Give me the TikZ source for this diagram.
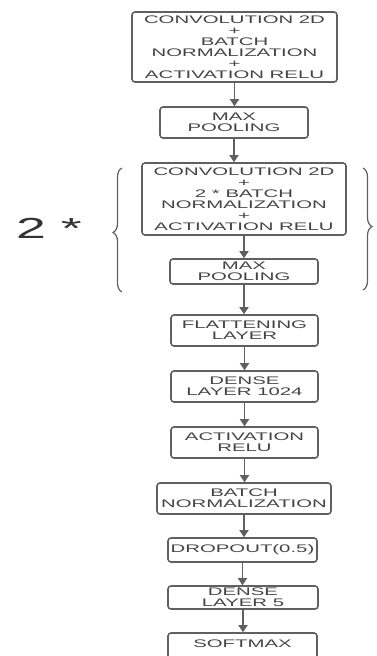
\documentclass[tikz,border=0pt]{standalone}
\usepackage{fontspec}
\usepackage{tikz}
\usetikzlibrary{arrows.meta,decorations.pathreplacing}
\newfontfamily\boxfont[FakeStretch=1.85]{Liberation Sans}
\definecolor{cline}{HTML}{606060}
\definecolor{ctext}{HTML}{444444}

\begin{document}
\begin{tikzpicture}[
  x=1pt,y=-1pt,
  box/.style={draw=cline,line width=1.6pt,rounded corners=3pt,fill=white,
    text=ctext,align=center,inner sep=0pt,
    font=\boxfont\fontsize{11}{10.9}\selectfont},
  arr/.style={draw=cline,line width=1.6pt,-{Triangle[length=7pt,width=9pt]}},
  brc/.style={draw=cline,line width=1.2pt,decorate,
    decoration={brace,amplitude=9pt,aspect=0.48}}]
  \useasboundingbox (0,0) rectangle (376,656);
  \clip (0,0) rectangle (376,656);
  \node[box,minimum width=205pt,minimum height=70pt] (conv) at (234.5,47)
    {CONVOLUTION 2D\\+\\BATCH\\NORMALIZATION\\+\\ACTIVATION RELU};
  \node[box,minimum width=148pt,minimum height=31pt] (pool) at (234,122.5)
    {MAX\\POOLING};
  \node[box,minimum width=204pt,minimum height=72pt] (convb) at (244,199)
    {CONVOLUTION 2D\\+\\2 * BATCH\\NORMALIZATION\\+\\ACTIVATION RELU};
  \node[box,minimum width=148pt,minimum height=25pt] (poolb) at (244,271.5)
    {MAX\\POOLING};
  \node[box,minimum width=147pt,minimum height=31pt] (flat) at (244.5,330.5)
    {FLATTENING\\LAYER};
  \node[box,minimum width=147pt,minimum height=31pt] (dense) at (244.5,386.5)
    {DENSE\\LAYER 1024};
  \node[box,minimum width=147pt,minimum height=31pt] (relu) at (244.5,442.5)
    {ACTIVATION\\RELU};
  \node[box,minimum width=174pt,minimum height=31pt] (bn) at (244,498.5)
    {BATCH\\NORMALIZATION};
  \node[box,minimum width=149pt,minimum height=24pt] (drop) at (242.5,550)
    {DROPOUT(0.5)};
  \node[box,minimum width=150pt,minimum height=23pt] (densef) at (243,597.5)
    {DENSE\\LAYER 5};
  \node[box,minimum width=149pt,minimum height=31pt] (soft) at (242.5,648.5)
    {\raisebox{9pt}{SOFTMAX}};
  % repeated block
  \node[text=black!80,font=\boxfont\fontsize{29}{29}\selectfont] (rep) at (49,228) {2 *};
  \draw[brc] (122,292) -- (122,168);
  \draw[brc] (363,168) -- (363,290);
  \draw[arr] (conv.south) -- (conv.south |- pool.north);
  \draw[arr] (pool.south) -- (pool.south |- convb.north);
  \draw[arr] (convb.south) -- (convb.south |- poolb.north);
  \draw[arr] (poolb.south) -- (poolb.south |- flat.north);
  \draw[arr] (flat.south) -- (flat.south |- dense.north);
  \draw[arr] (dense.south) -- (dense.south |- relu.north);
  \draw[arr] (relu.south) -- (relu.south |- bn.north);
  \draw[arr] (bn.south) -- (bn.south |- drop.north);
  \draw[arr] (drop.south) -- (drop.south |- densef.north);
  \draw[arr] (densef.south) -- (densef.south |- soft.north);
\end{tikzpicture}
\end{document}
